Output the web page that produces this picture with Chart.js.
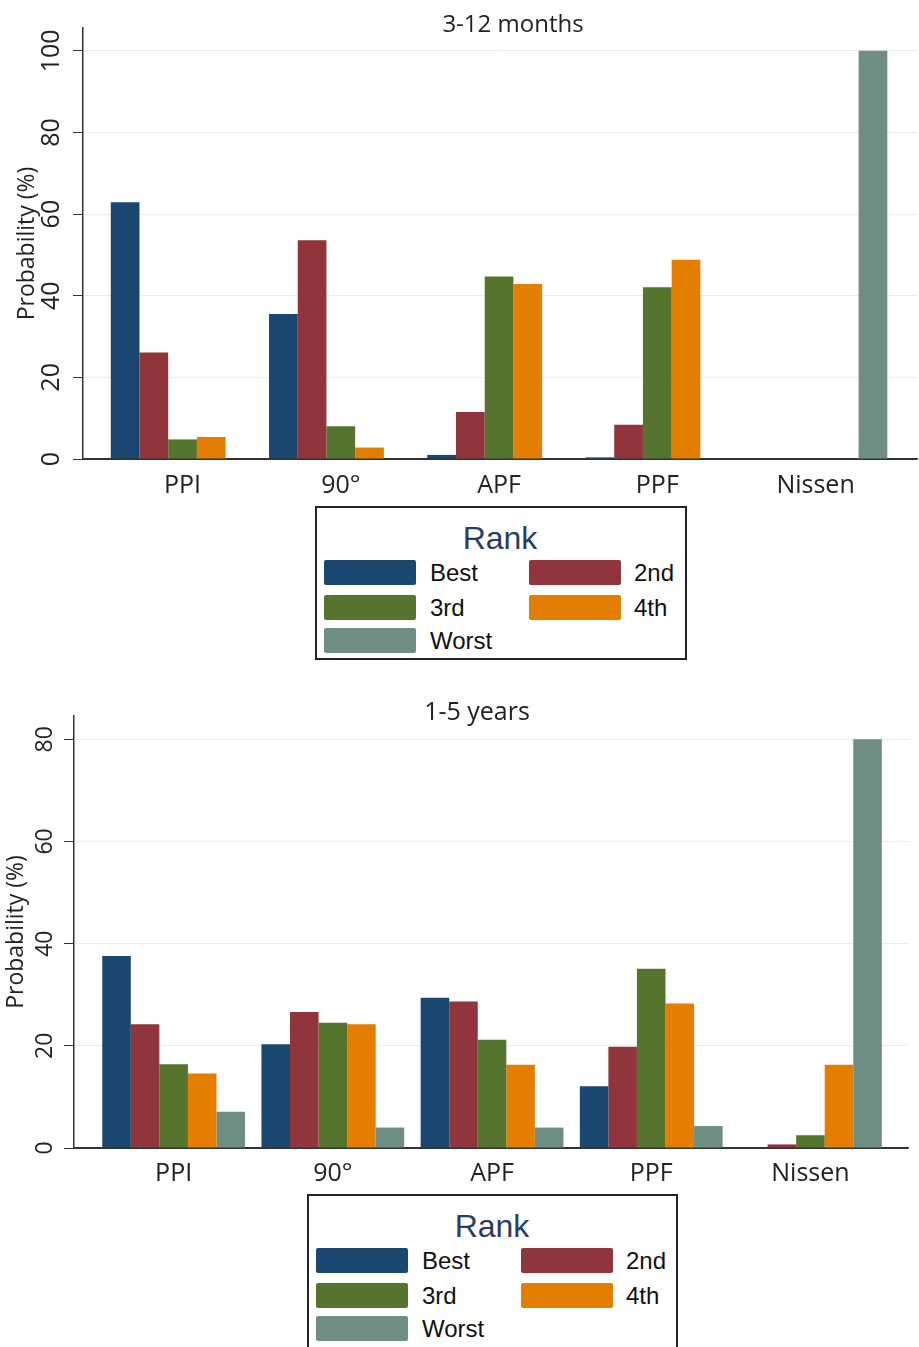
<!DOCTYPE html>
<html>
<head>
<meta charset="utf-8">
<script src="https://cdn.jsdelivr.net/npm/chart.js@4.4.1/dist/chart.umd.min.js"></script>
<style>
html,body{margin:0;padding:0;background:#fff;}
body{width:919px;height:1347px;position:relative;overflow:hidden;font-family:"Liberation Sans",Arial,sans-serif;}
canvas{position:absolute;left:0;}
.lg{position:absolute;border:2px solid #222;box-sizing:border-box;background:#fff;}
.lg .ttl{position:absolute;transform:translate(-50%,-50%);font-size:32px;color:#2a3c5e;white-space:nowrap;line-height:1;}
.lg .sw{position:absolute;border-radius:2px;}
.lg .tx{position:absolute;font-size:24px;color:#111;line-height:1;transform:translateY(-50%);white-space:nowrap;}
</style>
</head>
<body>
<canvas id="c1" width="919" height="500" style="top:0px"></canvas>
<canvas id="c2" width="919" height="490" style="top:700px"></canvas>
<div id="lg1" class="lg" style="left:315px;top:506px;width:372px;height:154px"></div>
<div id="lg2" class="lg" style="left:307px;top:1194px;width:371px;height:200px"></div>
<script>
// ---------- data ----------
const categories = ['PPI', '90°', 'APF', 'PPF', 'Nissen'];
const rankNames = ['Best', '2nd', '3rd', '4th', 'Worst'];
const rankColors = ['#1a476f', '#90353b', '#55752f', '#e37e00', '#6e8e84'];

// 3-12 months
const best12m   = [62.9, 35.5, 1.0, 0.4, 0];
const second12m = [26.1, 53.6, 11.5, 8.4, 0];
const third12m  = [4.8, 8.0, 44.7, 42.1, 0];
const fourth12m = [5.4, 2.8, 42.9, 48.8, 0];
const worst12m  = [0, 0, 0, 0, 100];
const yTicks12m = [0, 20, 40, 60, 80, 100];

// 1-5 years
const best5y   = [37.6, 20.3, 29.4, 12.1, 0];
const second5y = [24.2, 26.6, 28.7, 19.8, 0.7];
const third5y  = [16.4, 24.5, 21.2, 35.1, 2.5];
const fourth5y = [14.6, 24.2, 16.3, 28.3, 16.3];
const worst5y  = [7.1, 4.0, 4.0, 4.3, 80.0];
const yTicks5y = [0, 20, 40, 60, 80];

const yTitle = 'Probability (%)';

// ---------- helpers ----------
function textPlugin(cfg) {
  return {
    id: 'textPlugin',
    afterDraw(chart) {
      const ctx = chart.ctx, ys = chart.scales.y;
      ctx.save();
      ctx.fillStyle = '#222';
      ctx.textAlign = 'center';
      ctx.textBaseline = 'middle';
      ctx.font = cfg.tickFont;
      cfg.ticks.forEach(v => {
        const py = ys.getPixelForValue(v);
        ctx.save();
        ctx.translate(cfg.tickX, py);
        ctx.rotate(-Math.PI / 2);
        ctx.fillText(String(v), 0, 0);
        ctx.restore();
      });
      ctx.font = cfg.yTitleFont;
      ctx.save();
      ctx.translate(cfg.yTitleX, (chart.chartArea.top + chart.chartArea.bottom) / 2);
      ctx.rotate(-Math.PI / 2);
      ctx.fillText(yTitle, 0, 0);
      ctx.restore();
      ctx.font = cfg.titleFont;
      ctx.fillText(cfg.title, cfg.titleX, cfg.titleY);
      ctx.restore();
    }
  };
}

function makeChart(id, series, ticks, lay) {
  const datasets = series.map((arr, k) => ({
    label: rankNames[k],
    data: categories.map((c, i) => ({ x: i, y: arr[i] })),
    backgroundColor: rankColors[k],
    borderWidth: 0,
    categoryPercentage: lay.catPct,
    barPercentage: 1.0
  }));
  return new Chart(document.getElementById(id), {
    type: 'bar',
    data: { datasets },
    options: {
      responsive: false,
      animation: false,
      devicePixelRatio: 1,
      layout: { padding: { top: lay.padTop, right: lay.padRight, left: 0, bottom: 0 } },
      plugins: { legend: { display: false }, tooltip: { enabled: false }, title: { display: false } },
      scales: {
        x: {
          type: 'linear',
          offset: false,
          min: lay.xMin,
          max: lay.xMax,
          grid: { display: false, drawTicks: false, offset: false },
          border: { display: true, color: '#333', width: 1.5 },
          ticks: {
            stepSize: 1,
            includeBounds: false,
            autoSkip: false,
            maxRotation: 0,
            minRotation: 0,
            padding: lay.xPad,
            color: '#222',
            font: { family: 'Open Sans', size: 25 },
            callback: (v) => (Number.isInteger(v) && categories[v] !== undefined) ? categories[v] : ''
          },
          afterFit: (s) => { s.height = lay.xHeight; }
        },
        y: {
          min: 0,
          max: lay.yMax,
          grid: {
            color: (c) => (c.tick && c.tick.value === 0) ? '#333' : '#ebebeb',
            tickColor: '#333',
            tickLength: 10,
            drawTicks: true,
            lineWidth: 1
          },
          border: { display: true, color: '#333', width: 1.5 },
          ticks: { stepSize: 20, includeBounds: false, display: false },
          afterFit: (s) => { s.width = lay.yWidth; }
        }
      }
    },
    plugins: [textPlugin(lay.text)]
  });
}

makeChart('c1', [best12m, second12m, third12m, fourth12m, worst12m], yTicks12m, {
  catPct: 0.907, padTop: 28, padRight: 2, xMin: -0.629, xMax: 4.641,
  xPad: 12, xHeight: 41, yMax: 105.6, yWidth: 83,
  text: { ticks: yTicks12m, tickX: 52, tickFont: '25px "Open Sans"',
          yTitleX: 27, yTitleFont: '23px "Open Sans"',
          title: '3-12 months', titleX: 513, titleY: 25, titleFont: '24px "Open Sans"' }
});

makeChart('c2', [best5y, second5y, third5y, fourth5y, worst5y], yTicks5y, {
  catPct: 0.897, padTop: 16, padRight: 11, xMin: -0.626, xMax: 4.613,
  xPad: 11, xHeight: 42, yMax: 84.56, yWidth: 74,
  text: { ticks: yTicks5y, tickX: 45, tickFont: '23px "Open Sans"',
          yTitleX: 16, yTitleFont: '23px "Open Sans"',
          title: '1-5 years', titleX: 477, titleY: 13, titleFont: '25px "Open Sans"' }
});

// ---------- HTML legend ----------
function buildLegend(id) {
  const box = document.getElementById(id);
  const t = document.createElement('div');
  t.className = 'ttl'; t.textContent = 'Rank';
  t.style.left = '183px'; t.style.top = '30px';
  box.appendChild(t);
  const rows = [52, 87, 120];
  const swLeft = [7, 212], txLeft = [113, 317];
  rankNames.forEach((name, k) => {
    const col = k % 2, row = Math.floor(k / 2);
    const sw = document.createElement('div');
    sw.className = 'sw';
    sw.style.left = swLeft[col] + 'px';
    sw.style.top = rows[row] + 'px';
    sw.style.width = '92px';
    sw.style.height = '25px';
    sw.style.background = rankColors[k];
    box.appendChild(sw);
    const tx = document.createElement('div');
    tx.className = 'tx';
    tx.textContent = name;
    tx.style.left = txLeft[col] + 'px';
    tx.style.top = (rows[row] + 12.5) + 'px';
    box.appendChild(tx);
  });
}
buildLegend('lg1');
buildLegend('lg2');
</script>
</body>
</html>
